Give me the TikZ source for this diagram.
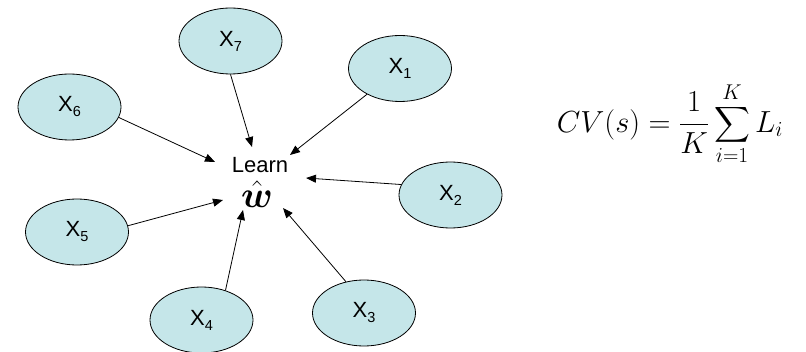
\RequirePackage{fix-cm}
\documentclass[tikz,border=0pt]{standalone}
\usepackage{amsmath}
\usepackage{fontspec}
\newfontfamily\labelfont{Liberation Sans}
\usetikzlibrary{arrows.meta,shapes.geometric}

\definecolor{nodefill}{RGB}{197,230,233}
\newcommand{\xsub}[2]{#1\raisebox{-5pt}{\fontsize{14.5}{14.5}\selectfont #2}}

\tikzset{
  xnode/.style={ellipse, draw, fill=nodefill, line width=0.8pt, minimum width=103pt, minimum height=66pt, inner sep=0pt, font=\labelfont\fontsize{22}{22}\selectfont},
  feed/.style={->, >={Triangle[length=10pt,width=8pt]}, line width=0.8pt}
}

\begin{document}
\begin{tikzpicture}[x=1pt, y=-1pt]
  \useasboundingbox (0,0) rectangle (806,352);
  \node[xnode] (X7) at (230.5, 41) {\xsub{X}{7}};
  \node[xnode] (X1) at (400, 68.5) {\xsub{X}{1}};
  \node[xnode] (X6) at (69.5, 107) {\xsub{X}{6}};
  \node[xnode] (X2) at (450.5, 195) {\xsub{X}{2}};
  \node[xnode] (X5) at (77, 232) {\xsub{X}{5}};
  \node[xnode] (X4) at (201.5, 320) {\xsub{X}{4}};
  \node[xnode] (X3) at (364, 313) {\xsub{X}{3}};
  \node[font=\labelfont\fontsize{22}{22}\selectfont] (learn) at (260, 165) {Learn};
  \node[font=\fontsize{37}{40}\selectfont, inner sep=0pt] (what) at (257, 194) {$\hat{\boldsymbol{w}}$};
  \node[font=\fontsize{30.5}{32}\selectfont] (cv) at (670, 124) {$\displaystyle CV(s)=\frac{1}{K}\sum_{i=1}^{K}L_i$};
  % arrow tips round the learner
  \coordinate (t7) at (252, 147);
  \coordinate (t1) at (290, 155);
  \coordinate (t6) at (215, 162);
  \coordinate (t2) at (306, 178);
  \coordinate (t5) at (223, 200);
  \coordinate (t4) at (243, 210);
  \coordinate (t3) at (283, 208);
  \draw[feed] (X7.south) -- (t7);
  \draw[feed] (X1.218) -- (t1);
  \draw[feed] (X6.348) -- (t6);
  \draw[feed] (X2.168) -- (t2);
  \draw[feed] (X5.7) -- (t5);
  \draw[feed] (X4.51) -- (t4);
  \draw[feed] (X3.120) -- (t3);
\end{tikzpicture}
\end{document}
